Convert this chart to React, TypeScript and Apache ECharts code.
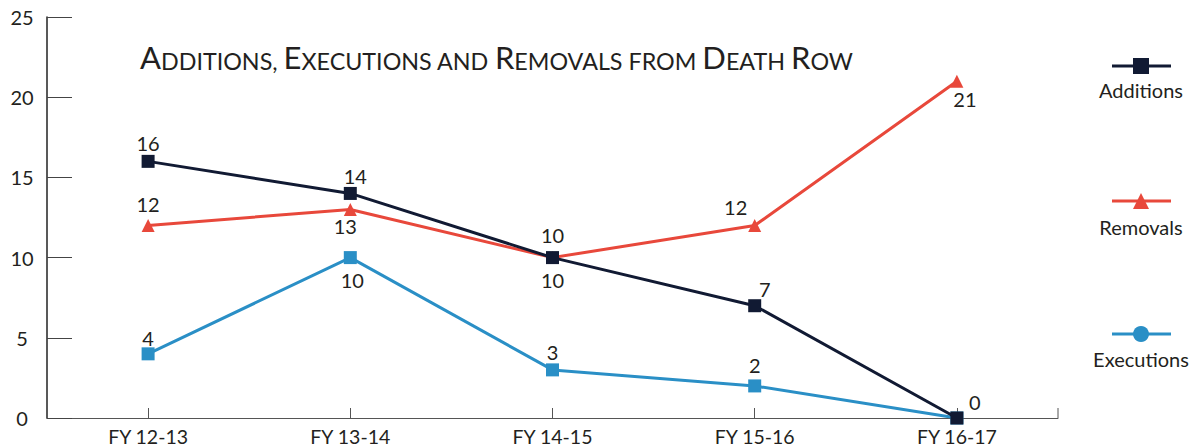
import React, { useEffect, useRef } from "react";
import * as echarts from "echarts";

const titleText = "Additions, Executions and Removals from Death Row";
const categories = ["FY 12-13", "FY 13-14", "FY 14-15", "FY 15-16", "FY 16-17"];
const additions = [16, 14, 10, 7, 0];
const removals = [12, 13, 10, 12, 21];
const executions = [4, 10, 3, 2, 0];
const yTicks = [0, 5, 10, 15, 20, 25];

const NAVY = "#111a33";
const RED = "#e8483b";
const BLUE = "#2a8fc6";
const TEXT = "#231f20";
const FONT = "Lato";

function smallCaps(s: string): string {
  let out = "";
  let cur = "";
  let curType = "";
  const flush = () => {
    if (cur) out += `{${curType}|${cur}}`;
    cur = "";
  };
  for (const ch of s) {
    const t = ch >= "A" && ch <= "Z" ? "b" : "s";
    if (t !== curType) {
      flush();
      curType = t;
    }
    cur += ch.toUpperCase();
  }
  flush();
  return out;
}

type LabelSpec = { position: string; offset?: [number, number]; show?: boolean };

function withLabels(values: number[], specs: LabelSpec[]) {
  return values.map((v, i) => ({
    value: v,
    label: {
      show: specs[i].show !== false,
      position: specs[i].position,
      offset: specs[i].offset || [0, 0],
    },
  }));
}

export default function App() {
  const ref = useRef<HTMLDivElement>(null);
  useEffect(() => {
    if (!ref.current) return;
    const chart = echarts.init(ref.current, null, { renderer: "svg" });
    const labelBase = {
      show: true,
      fontFamily: FONT,
      fontSize: 20,
      color: TEXT,
      distance: 2,
      formatter: "{c}",
    };
    const legendItems = [
      { name: "Additions", color: NAVY, symbol: "rect", y: 66, ty: 80 },
      { name: "Removals", color: RED, symbol: "triangle", y: 201, ty: 217 },
      { name: "Executions", color: BLUE, symbol: "circle", y: 334, ty: 349 },
    ];
    const graphics: any[] = [
      {
        type: "line",
        shape: { x1: 1058, y1: 418, x2: 1058, y2: 408 },
        style: { stroke: "#555", lineWidth: 1 },
      },
    ];
    legendItems.forEach((it) => {
      const cx = 1141;
      graphics.push({
        type: "line",
        shape: { x1: 1112, y1: it.y, x2: 1171, y2: it.y },
        style: { stroke: it.color, lineWidth: 3 },
      });
      if (it.symbol === "rect") {
        graphics.push({
          type: "rect",
          shape: { x: cx - 8, y: it.y - 8, width: 16, height: 16 },
          style: { fill: it.color },
        });
      } else if (it.symbol === "triangle") {
        graphics.push({
          type: "polygon",
          shape: { points: [[cx, it.y - 8], [cx + 8, it.y + 8], [cx - 8, it.y + 8]] },
          style: { fill: it.color },
        });
      } else {
        graphics.push({
          type: "circle",
          shape: { cx, cy: it.y, r: 8 },
          style: { fill: it.color },
        });
      }
      graphics.push({
        type: "text",
        x: cx,
        y: it.ty,
        style: {
          text: it.name,
          fill: TEXT,
          font: `20px ${FONT}`,
          textAlign: "center",
          textVerticalAlign: "top",
        },
      });
    });

    chart.setOption({
      animation: false,
      title: {
        text: smallCaps(titleText),
        left: 140,
        top: 38,
        padding: 0,
        textStyle: {
          fontFamily: FONT,
          color: TEXT,
          fontWeight: "normal",
          rich: {
            b: { fontFamily: FONT, fontSize: 31, color: TEXT, verticalAlign: "bottom", lineHeight: 34 },
            s: { fontFamily: FONT, fontSize: 23.3, color: TEXT, verticalAlign: "bottom", lineHeight: 34 },
          },
        },
      },
      grid: { left: 47, right: 135, top: 17, bottom: 28, containLabel: false },
      xAxis: {
        type: "category",
        data: categories,
        boundaryGap: true,
        axisLine: { lineStyle: { color: "#555", width: 1 } },
        axisTick: { show: true, inside: true, alignWithLabel: true, length: 10, lineStyle: { color: "#555" } },
        axisLabel: { fontFamily: FONT, fontSize: 19.5, color: TEXT, margin: 9, lineHeight: 18 },
        splitLine: { show: false },
      },
      yAxis: {
        type: "value",
        min: yTicks[0],
        max: yTicks[yTicks.length - 1],
        interval: 5,
        axisLine: { show: true, lineStyle: { color: "#222", width: 1.5 } },
        axisTick: { show: true, inside: true, length: 25, lineStyle: { color: "#444" } },
        axisLabel: { fontFamily: FONT, fontSize: 20, color: TEXT, margin: 25, align: "center" },
        splitLine: { show: false },
      },
      graphic: graphics,
      series: [
        {
          name: "Executions",
          type: "line",
          data: withLabels(executions, [
            { position: "top", offset: [0, 3] },
            { position: "bottom", offset: [2, 4] },
            { position: "top", offset: [0, 1] },
            { position: "top", offset: [0, -2] },
            { position: "top", show: false },
          ]),
          symbol: "rect",
          symbolSize: 13,
          showAllSymbol: true,
          lineStyle: { color: BLUE, width: 3 },
          itemStyle: { color: BLUE },
          label: labelBase,
          z: 2,
        },
        {
          name: "Removals",
          type: "line",
          data: withLabels(removals, [
            { position: "top", offset: [0, -3] },
            { position: "bottom", offset: [-5, -2] },
            { position: "bottom", offset: [0, 4] },
            { position: "top", offset: [-19, 0] },
            { position: "bottom", offset: [8, -1] },
          ]),
          symbol: "triangle",
          symbolSize: 13,
          lineStyle: { color: RED, width: 3 },
          itemStyle: { color: RED },
          label: labelBase,
          z: 3,
        },
        {
          name: "Additions",
          type: "line",
          data: withLabels(additions, [
            { position: "top", offset: [0, 0] },
            { position: "top", offset: [5, 1] },
            { position: "top", offset: [0, -4] },
            { position: "top", offset: [10, 2] },
            { position: "top", offset: [18, 2] },
          ]),
          symbol: "rect",
          symbolSize: 13,
          lineStyle: { color: NAVY, width: 3 },
          itemStyle: { color: NAVY },
          label: labelBase,
          z: 4,
        },
      ],
    });
    return () => chart.dispose();
  }, []);
  return <div ref={ref} style={{ width: 1193, height: 446, position: "absolute", left: 0, top: 0 }} />;
}
